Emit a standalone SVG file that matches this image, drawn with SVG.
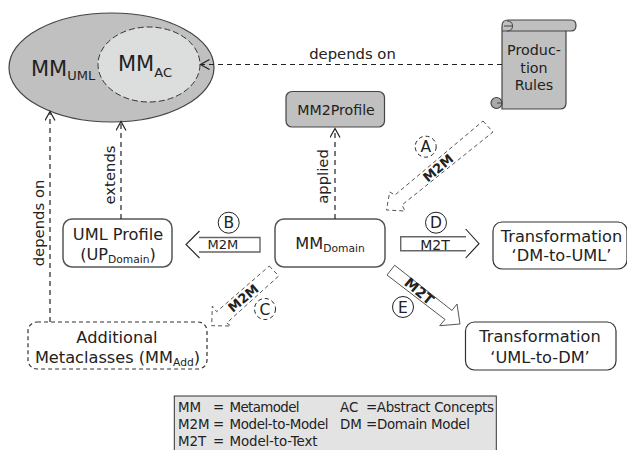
<svg xmlns="http://www.w3.org/2000/svg" width="627" height="450" viewBox="0 0 627 450">
<style>
text{font-family:"DejaVu Sans",sans-serif;fill:#222;text-anchor:middle}
.n{fill:#fff;stroke:#333;stroke-width:1.2}
.n2{fill:#fff;stroke:#555;stroke-width:1.5}
.g{fill:#bfc0bf;stroke:#444;stroke-width:1.2}
.d{stroke-dasharray:4 3}
.c{fill:none;stroke:#222;stroke-width:1.2;stroke-dasharray:5 4}
.a{fill:#fff;stroke:#555;stroke-width:1}
.s{fill:none;stroke:#666;stroke-width:1.4}
.h{fill:none;stroke:#222;stroke-width:1.1}
.t14{font-size:14.800px}
.t15{font-size:16.200px}
.b{font-size:13px;font-weight:bold}
.m{font-size:13px}
.l{font-size:13.400px;text-anchor:start}
.cc{fill:#fff;stroke:#222;stroke-width:1}
.cl{font-size:15.500px}
</style>
<defs>
<marker id="h" markerWidth="12" markerHeight="12" refX="9.5" refY="5" orient="auto" markerUnits="userSpaceOnUse"><path d="M1 0L10 5L1 10" fill="none" stroke="#222" stroke-width="1.2"/></marker>
</defs>
<rect width="627" height="450" fill="#fff"/>
<g id="mm-uml">
<ellipse class="g" cx="111.500" cy="67.500" rx="102.500" ry="54.500"/>
<text x="31" y="76" font-size="21" style="text-anchor:start">MM<tspan font-size="13" dy="4">UML</tspan></text>
</g>
<g id="mm-ac">
<ellipse cx="149" cy="64.500" rx="51" ry="37.500" fill="#dcdedd" stroke="#333" stroke-width="1" stroke-dasharray="6 3"/>
<text x="118" y="71" font-size="21" style="text-anchor:start">MM<tspan font-size="13" dy="6">AC</tspan></text>
</g>
<g id="production-rules">
<path class="g" d="M502 26Q502 20 508 20H571Q576 20 576 25.500Q576 31 571 31H566V103Q566 109 560 109H502V31Z"/>
<circle cx="496.500" cy="103" r="5.500" fill="#a8a9a8" stroke="#444" stroke-width="1.200"/>
<path fill="none" stroke="#444" d="M502 31H566M504 26H512.500M512.500 26Q512.500 21 507 21M512.500 26Q512.500 31 507 31M502 103H497"/>
<text class="t14" style="font-size:14.300px" x="534" y="55">Produc-</text>
<text class="t14" style="font-size:14.300px" x="534" y="73">tion</text>
<text class="t14" style="font-size:14.300px" x="534" y="90">Rules</text>
</g>
<g id="mm2profile">
<rect class="g" x="286" y="91.500" width="98.500" height="35.500" rx="6"/>
<text x="336" y="115" font-size="14.200">MM2Profile</text>
</g>
<g id="uml-profile">
<rect class="n2" x="63" y="219" width="109" height="48" rx="9"/>
<text class="t15" x="118" y="239.500">UML Profile</text>
<text class="t15" x="118" y="260">(UP<tspan font-size="10.700" dy="3">Domain</tspan><tspan dy="-3">)</tspan></text>
</g>
<g id="mm-domain">
<rect class="n2" x="275" y="219" width="110" height="48" rx="9"/>
<text class="t15" x="330" y="249">MM<tspan font-size="10.700" dy="3">Domain</tspan></text>
</g>
<g id="transformation-dm-uml">
<rect class="n" x="493" y="222" width="134" height="47" rx="9"/>
<text class="t15" x="561.500" y="241.500">Transformation</text>
<text class="t15" x="561.500" y="261">‘DM-to-UML’</text>
</g>
<g id="transformation-uml-dm">
<rect class="n" x="465.500" y="322" width="150.500" height="48" rx="9"/>
<text class="t15" x="540" y="342">Transformation</text>
<text class="t15" x="540" y="362.500">‘UML-to-DM’</text>
</g>
<g id="additional-metaclasses">
<rect class="n d" x="28" y="322" width="179" height="47" rx="9"/>
<text class="t15" x="117" y="342.500">Additional</text>
<text class="t15" x="117.500" y="362.500">Metaclasses (MM<tspan font-size="10.700" dy="3">Add</tspan><tspan dy="-3">)</tspan></text>
</g>
<g id="connectors">
<path class="c" d="M502 64.500H201" marker-end="url(#h)"/>
<path class="c" d="M121 219V122" marker-end="url(#h)"/>
<path class="c" d="M50 322V112" marker-end="url(#h)"/>
<path class="c" d="M335 219V129" marker-end="url(#h)"/>
<text class="t14" x="352.500" y="59">depends on</text>
<text class="t14" transform="translate(115 175) rotate(-90)">extends</text>
<text class="t14" transform="translate(43.500 223) rotate(-90)">depends on</text>
<text class="t14" transform="translate(328 176.500) rotate(-90)">applied</text>
</g>
<g id="arrow-a">
<path class="a d" d="M483 121L493 132L402 205L405 211L386.500 210L389.700 192L395 195Z"/>
<circle class="cc d" cx="425.700" cy="146.700" r="10.500"/>
<text class="cl" x="425.700" y="152.300">A</text>
<text class="b" transform="translate(441 171.500) rotate(-40)">M2M</text>
</g>
<g id="arrow-b">
<path class="s" d="M199 237.500H260V252H199"/>
<path class="h" d="M199.500 231L186 244.500L199.500 258"/>
<circle class="cc" cx="228.700" cy="222.700" r="10.500"/>
<text class="cl" x="228.700" y="228.300">B</text>
<text class="m" x="222.800" y="249">M2M</text>
</g>
<g id="arrow-c">
<path class="a d" d="M269.300 266L278.700 276L226.700 323L231 326L211.700 325.700L212.300 306L216.700 311.700Z"/>
<circle class="cc d" cx="265" cy="309" r="10.500"/>
<text class="cl" x="265" y="314.600">C</text>
<text class="b" transform="translate(246.200 301.700) rotate(-40)">M2M</text>
</g>
<g id="arrow-d">
<path class="s" d="M466 236.700H400.700V250.700H466"/>
<path class="h" d="M465.700 229L479 243.700L465.700 258"/>
<circle class="cc" cx="436" cy="222.700" r="10.500"/>
<text class="cl" x="436" y="228.300">D</text>
<text class="m" style="font-size:14px" x="435" y="250">M2T</text>
</g>
<g id="arrow-e">
<path class="a" d="M394.700 265.300L452 310.500L457 304L460 324L439.700 325.700L445 319.500L387 275Z"/>
<circle class="cc" cx="403" cy="307" r="10.500"/>
<text class="cl" x="403" y="312.600">E</text>
<text class="b" style="font-size:14px" transform="translate(416 295) rotate(40)">M2T</text>
</g>
<g id="legend">
<rect x="174.300" y="396" width="322" height="56" fill="#e3e3e3" stroke="#333"/>
<text class="l" x="178" y="412">MM</text><text class="l" x="213" y="412">=</text><text class="l" x="229.500" y="412" textLength="70">Metamodel</text>
<text class="l" x="340" y="412">AC</text><text class="l" x="366" y="412" textLength="128">=Abstract Concepts</text>
<text class="l" x="178" y="428.500">M2M</text><text class="l" x="213" y="428.500">=</text><text class="l" x="229.500" y="428.500" textLength="99">Model-to-Model</text>
<text class="l" x="340" y="428.500">DM</text><text class="l" x="366" y="428.500" textLength="104">=Domain Model</text>
<text class="l" x="178" y="445.500">M2T</text><text class="l" x="213" y="445.500">=</text><text class="l" x="229.500" y="445.500" textLength="88">Model-to-Text</text>
</g>
</svg>
